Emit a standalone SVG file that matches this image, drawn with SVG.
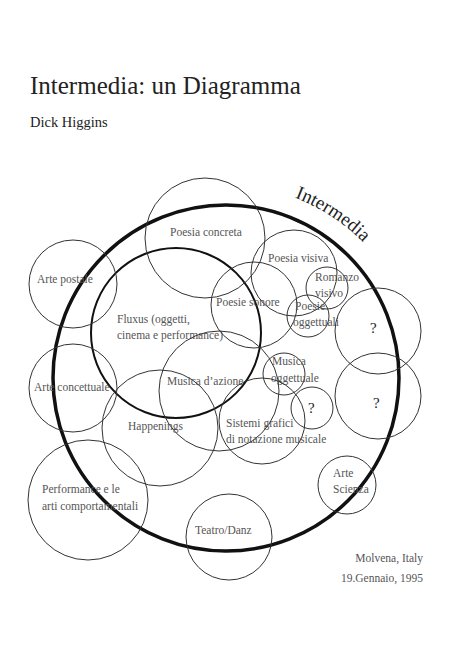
<svg xmlns="http://www.w3.org/2000/svg" width="474" height="672" viewBox="0 0 474 672">
<style>
.c{fill:none;stroke:#333;stroke-width:1}
.lbl{font-family:"Liberation Serif",serif;font-size:11.5px;fill:#555}
.q{font-family:"Liberation Serif",serif;font-size:15px;fill:#222}
.t{font-family:"Liberation Serif",serif;fill:#222}
</style>
<rect width="474" height="672" fill="#fff"/>
<text class="t" x="30" y="94" font-size="25">Intermedia: un Diagramma</text>
<text class="t" x="30" y="127" font-size="14.5">Dick Higgins</text>
<defs><path id="arcI" d="M 292 196.6 A 193 193 0 0 1 393 281.5"/></defs>
<g id="intermedia">
<circle cx="226" cy="378" r="173" fill="none" stroke="#111" stroke-width="3.5"/>
<text class="t" font-size="19"><textPath href="#arcI" startOffset="3">Intermedia</textPath></text>
</g>
<g id="fluxus"><circle cx="176" cy="333" r="85" fill="none" stroke="#111" stroke-width="2"/>
<text class="lbl"><tspan x="117" y="323">Fluxus (oggetti,</tspan><tspan x="117" y="339">cinema e performance)</tspan></text></g>
<g id="poesia-concreta"><circle class="c" cx="205" cy="238" r="60"/><text class="lbl" x="170" y="236">Poesia concreta</text></g>
<g id="poesia-visiva"><circle class="c" cx="294" cy="273" r="43"/><text class="lbl" x="268" y="262">Poesia visiva</text></g>
<g id="romanzo-visivo"><circle class="c" cx="327" cy="288" r="21"/><text class="lbl"><tspan x="315" y="281">Romanzo</tspan><tspan x="315" y="297">visivo</tspan></text></g>
<g id="poesie-sonore"><circle class="c" cx="254" cy="305" r="43"/><text class="lbl" x="216" y="306">Poesie sonore</text></g>
<g id="poesie-oggettuali"><circle class="c" cx="308" cy="316" r="21"/><text class="lbl"><tspan x="295" y="310">Poesie</tspan><tspan x="293" y="326">oggettuali</tspan></text></g>
<g id="q1"><circle class="c" cx="378" cy="331" r="43"/><text class="q" x="370" y="333">?</text></g>
<g id="q2"><circle class="c" cx="378" cy="396" r="43"/><text class="q" x="373" y="408">?</text></g>
<g id="musica-oggettuale"><circle class="c" cx="284" cy="374" r="21"/><text class="lbl"><tspan x="272" y="365">Musica</tspan><tspan x="271" y="382">oggettuale</tspan></text></g>
<g id="q3"><circle class="c" cx="312" cy="408" r="21"/><text class="q" x="308" y="413">?</text></g>
<g id="sistemi-grafici"><circle class="c" cx="262" cy="421" r="43"/><text class="lbl"><tspan x="226" y="427">Sistemi grafici</tspan><tspan x="226" y="443">di notazione musicale</tspan></text></g>
<g id="musica-azione"><circle class="c" cx="219" cy="391" r="60"/><text class="lbl" x="167" y="385">Musica d’azione</text></g>
<g id="happenings"><circle class="c" cx="160" cy="428" r="58"/><text class="lbl" x="128" y="430">Happenings</text></g>
<g id="arte-postale"><circle class="c" cx="73" cy="284" r="44"/><text class="lbl" x="37" y="283">Arte postale</text></g>
<g id="arte-concettuale"><circle class="c" cx="73" cy="388" r="44"/><text class="lbl" x="34" y="391">Arte concettuale</text></g>
<g id="performance"><circle class="c" cx="88" cy="500" r="60"/><text class="lbl"><tspan x="42" y="493">Performance e le</tspan><tspan x="42" y="510">arti comportamentali</tspan></text></g>
<g id="teatro-danz"><circle class="c" cx="229" cy="537" r="43"/><text class="lbl" x="195" y="534">Teatro/Danz</text></g>
<g id="arte-scienza"><circle class="c" cx="347" cy="485" r="29"/><text class="lbl"><tspan x="333" y="477">Arte</tspan><tspan x="333" y="493">Scienza</tspan></text></g>
<g id="connectors"/>
<text class="lbl" x="423" y="562" text-anchor="end" font-size="11">Molvena, Italy</text>
<text class="lbl" x="423" y="582" text-anchor="end" font-size="11">19.Gennaio, 1995</text>
</svg>
